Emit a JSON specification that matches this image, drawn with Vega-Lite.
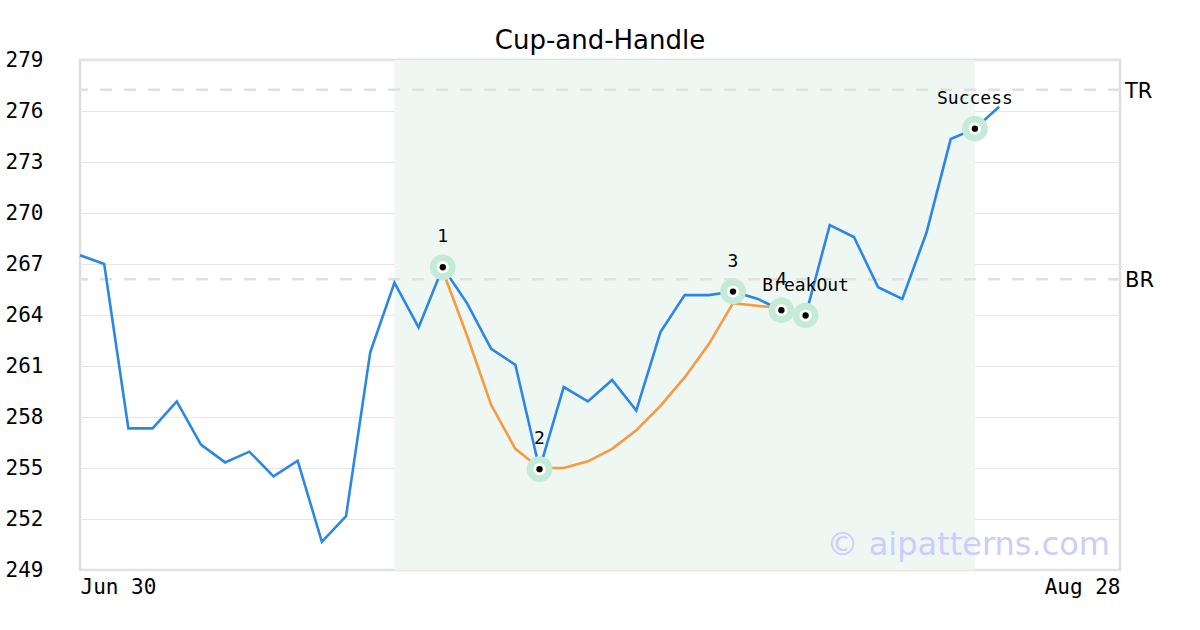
{
  "$schema": "https://vega.github.io/schema/vega-lite/v6.json",
  "autosize": "none",
  "width": 1040,
  "height": 510,
  "padding": {"left": 80, "top": 60, "right": 80, "bottom": 60},
  "background": "white",
  "title": {"text": "Cup-and-Handle", "font": "DejaVu Sans", "fontSize": 26, "fontWeight": "normal", "color": "#000000", "anchor": "middle", "offset": -5},
  "config": {
    "view": {"stroke": "#dedede", "strokeWidth": 2.5},
    "axis": {"labelFont": "DejaVu Sans Mono", "labelFontSize": 21, "labelColor": "#000000", "ticks": false, "domain": false, "title": null}
  },
  "datasets": {
    "price": [
      {"i": 0, "v": 267.52}, {"i": 1, "v": 267.0}, {"i": 2, "v": 257.33}, {"i": 3, "v": 257.33},
      {"i": 4, "v": 258.92}, {"i": 5, "v": 256.38}, {"i": 6, "v": 255.33}, {"i": 7, "v": 255.96},
      {"i": 8, "v": 254.51}, {"i": 9, "v": 255.43}, {"i": 10, "v": 250.66}, {"i": 11, "v": 252.17},
      {"i": 12, "v": 261.8}, {"i": 13, "v": 265.9}, {"i": 14, "v": 263.27}, {"i": 15, "v": 266.81},
      {"i": 16, "v": 264.7}, {"i": 17, "v": 262.01}, {"i": 18, "v": 261.07}, {"i": 19, "v": 254.93},
      {"i": 20, "v": 259.76}, {"i": 21, "v": 258.92}, {"i": 22, "v": 260.18}, {"i": 23, "v": 258.38},
      {"i": 24, "v": 263.0}, {"i": 25, "v": 265.17}, {"i": 26, "v": 265.17}, {"i": 27, "v": 265.38},
      {"i": 28, "v": 264.96}, {"i": 29, "v": 264.28}, {"i": 30, "v": 263.97}, {"i": 31, "v": 269.29},
      {"i": 32, "v": 268.59}, {"i": 33, "v": 265.63}, {"i": 34, "v": 264.94}, {"i": 35, "v": 268.85},
      {"i": 36, "v": 274.35}, {"i": 37, "v": 274.96}, {"i": 38, "v": 276.25}
    ],
    "cup": [
      {"i": 15, "v": 266.6}, {"i": 16, "v": 262.79}, {"i": 17, "v": 258.71}, {"i": 18, "v": 256.13},
      {"i": 19, "v": 255.0}, {"i": 20, "v": 255.0}, {"i": 21, "v": 255.39}, {"i": 22, "v": 256.13},
      {"i": 23, "v": 257.22}, {"i": 24, "v": 258.65}, {"i": 25, "v": 260.33}, {"i": 26, "v": 262.29},
      {"i": 27, "v": 264.7}, {"i": 28, "v": 264.54}, {"i": 29, "v": 264.4}
    ],
    "points": [
      {"i": 15, "v": 266.81, "label": "1"},
      {"i": 19, "v": 254.93, "label": "2"},
      {"i": 27, "v": 265.38, "label": "3"},
      {"i": 29, "v": 264.28, "label": "4"},
      {"i": 30, "v": 263.97, "label": "BreakOut"},
      {"i": 37, "v": 274.96, "label": "Success"}
    ],
    "levels": [
      {"i": 43, "v": 277.25, "label": "TR"},
      {"i": 43, "v": 266.1, "label": "BR"}
    ],
    "zone": [{"start": 13, "end": 37}],
    "wm": [{"i": 43, "v": 249, "label": "© aipatterns.com"}]
  },
  "layer": [
    {
      "data": {"name": "zone"},
      "mark": {"type": "rect", "color": "#eff7f3"},
      "encoding": {
        "x": {"field": "start", "type": "quantitative", "scale": {"domain": [0, 43], "nice": false, "zero": false},
          "axis": {"values": [0, 43], "grid": false, "labelFlush": true, "labelPadding": 6,
            "labelExpr": "datum.value == 0 ? 'Jun 30' : 'Aug 28'"}},
        "x2": {"field": "end"}
      }
    },
    {
      "data": {"name": "levels"},
      "mark": {"type": "rule", "color": "#e0e0e0", "strokeWidth": 2.5, "strokeDash": [12, 12]},
      "encoding": {
        "y": {"field": "v", "type": "quantitative", "scale": {"domain": [249, 279], "nice": false, "zero": false},
          "axis": {"values": [249, 252, 255, 258, 261, 264, 267, 270, 273, 276, 279], "grid": true, "gridColor": "#e6e6e6", "gridWidth": 1, "labelPadding": 37}}
      }
    },
    {
      "data": {"name": "levels"},
      "mark": {"type": "text", "font": "DejaVu Sans", "fontSize": 21, "align": "left", "baseline": "middle", "dx": 5, "dy": 2, "color": "#000000"},
      "encoding": {
        "x": {"field": "i", "type": "quantitative"},
        "y": {"field": "v", "type": "quantitative"},
        "text": {"field": "label"}
      }
    },
    {
      "data": {"name": "price"},
      "mark": {"type": "line", "color": "#2b87e6", "strokeWidth": 2.6},
      "encoding": {
        "x": {"field": "i", "type": "quantitative"},
        "y": {"field": "v", "type": "quantitative"}
      }
    },
    {
      "data": {"name": "cup"},
      "mark": {"type": "line", "color": "#f89a40", "strokeWidth": 2.6},
      "encoding": {
        "x": {"field": "i", "type": "quantitative"},
        "y": {"field": "v", "type": "quantitative"}
      }
    },
    {
      "data": {"name": "points"},
      "mark": {"type": "circle", "color": "#c4ebd8", "opacity": 1, "size": 660},
      "encoding": {
        "x": {"field": "i", "type": "quantitative"},
        "y": {"field": "v", "type": "quantitative"}
      }
    },
    {
      "data": {"name": "points"},
      "mark": {"type": "circle", "color": "#ffffff", "opacity": 1, "size": 150},
      "encoding": {
        "x": {"field": "i", "type": "quantitative"},
        "y": {"field": "v", "type": "quantitative"}
      }
    },
    {
      "data": {"name": "points"},
      "mark": {"type": "circle", "color": "#000000", "opacity": 1, "size": 40},
      "encoding": {
        "x": {"field": "i", "type": "quantitative"},
        "y": {"field": "v", "type": "quantitative"}
      }
    },
    {
      "data": {"name": "points"},
      "mark": {"type": "text", "font": "DejaVu Sans Mono", "fontSize": 18, "align": "center", "baseline": "middle", "dy": -30, "color": "#000000"},
      "encoding": {
        "x": {"field": "i", "type": "quantitative"},
        "y": {"field": "v", "type": "quantitative"},
        "text": {"field": "label"}
      }
    },
    {
      "data": {"name": "wm"},
      "mark": {"type": "text", "font": "DejaVu Sans", "fontSize": 32, "align": "right", "baseline": "alphabetic", "dx": -10, "dy": -15, "color": "#cdcdfb"},
      "encoding": {
        "x": {"field": "i", "type": "quantitative"},
        "y": {"field": "v", "type": "quantitative"},
        "text": {"field": "label"}
      }
    }
  ]
}
